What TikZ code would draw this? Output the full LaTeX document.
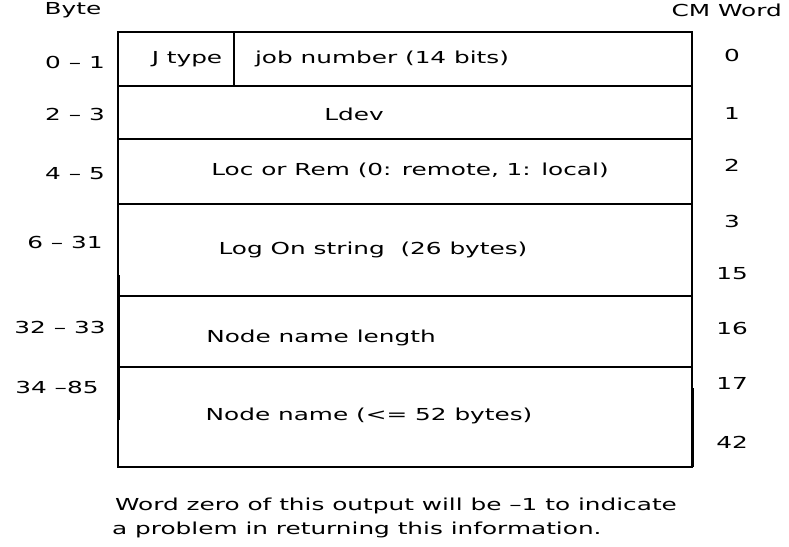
\documentclass[tikz,border=0pt]{standalone}
\usepackage{fontspec}
\newfontfamily\plotfont[FakeStretch=1.5]{DejaVu Sans}
\begin{document}
\begin{tikzpicture}
  [x=1pt, y=-1pt,
   every node/.style={inner sep=0pt, font=\plotfont\fontsize{16.5}{19}\selectfont},
   rule/.style={line width=1.6pt},
   heavy/.style={line width=3pt}]
  \useasboundingbox (0,0) rectangle (789,546);
  % frame and rows
  \draw[rule] (118,32) rectangle (692,467);
  \foreach \y in {86,139,204,296,367}
    \draw[rule] (118,\y) -- (692,\y);
  \draw[rule] (234,32) -- (234,86);
  \draw[heavy] (118,275) -- (118,420);
  \draw[heavy] (692,388) -- (692,467);
  % headings
  \node (byte) at (73,10) {Byte};
  \node[anchor=east] (cmword) at (782,10) {CM Word};
  % byte offsets
  \node (b0) at (75,62) {0 – 1};
  \node (b2) at (75,114) {2 – 3};
  \node (b4) at (75,174) {4 – 5};
  \node (b6) at (65,242) {6 – 31};
  \node (b32) at (60,327) {32 – 33};
  \node (b34) at (57,387) {34 –85};
  % word numbers
  \foreach \w/\y in {0/55,1/113,2/165,3/221,15/274,16/328,17/383,42/442}
    \node (w\w) at (732,\y) {\w};
  % fields
  \node (jtype) at (187,59) {J type};
  \node (jobno) at (382,59) {job number (14 bits)};
  \node (ldev) at (354,114) {Ldev};
  \node (locrem) at (410,170) {Loc or Rem (0: remote, 1: local)};
  \node (logon) at (373,250) {Log On string~~(26 bytes)};
  \node (nnlen) at (321,338) {Node name length};
  \node (nname) at (369,416) {Node name (<= 52 bytes)};
  % note
  \node[anchor=west] (note1) at (115,506) {Word zero of this output will be –1 to indicate};
  \node[anchor=west] (note2) at (112,530) {a problem in returning this information.};
\end{tikzpicture}
\end{document}
